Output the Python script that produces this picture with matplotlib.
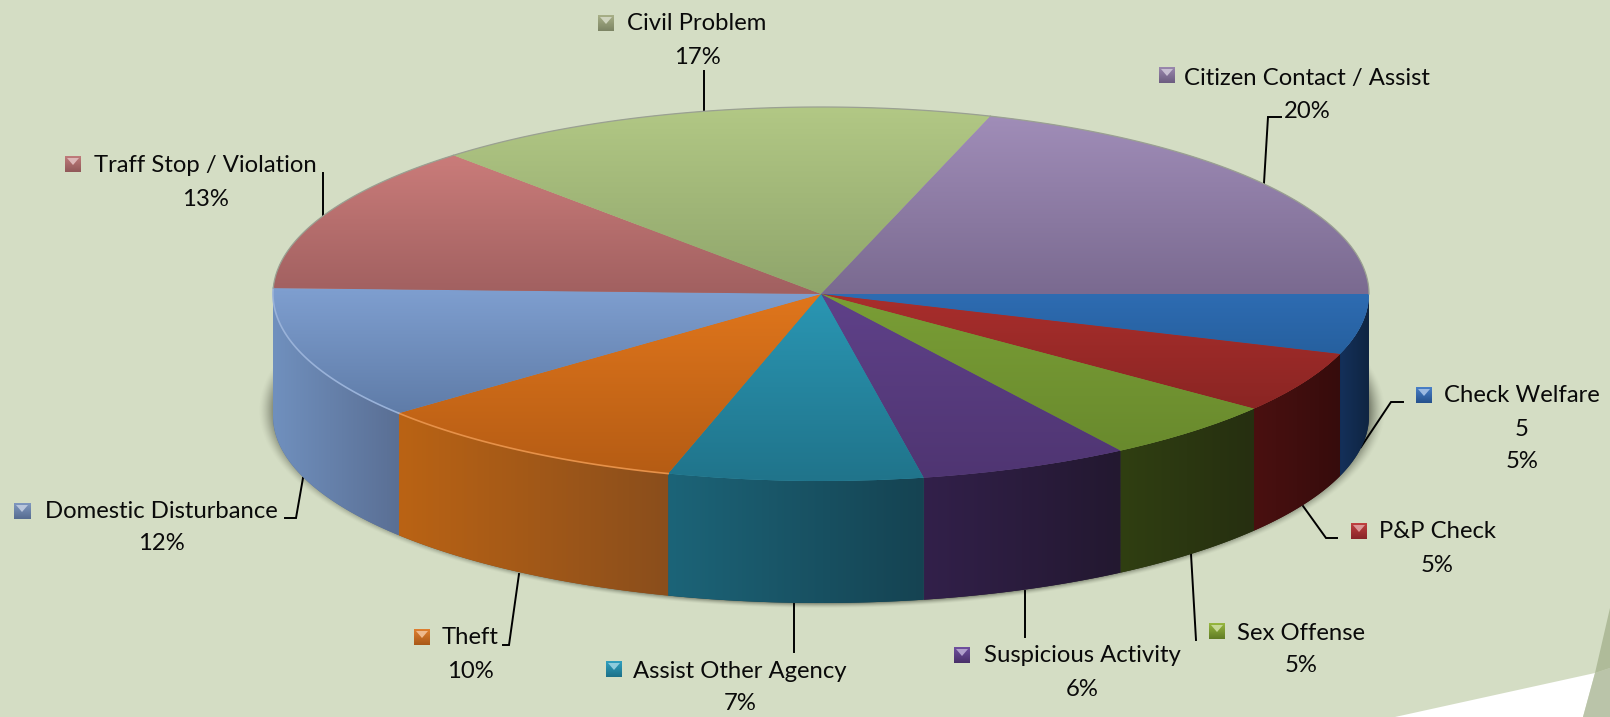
import numpy as np
import matplotlib
matplotlib.use("Agg")
import matplotlib.pyplot as plt
from matplotlib.colors import to_rgb
from matplotlib.patches import Polygon

# Slices, clockwise from the right hand edge of the pie
categories = ["Check Welfare", "P&P Check", "Sex Offense", "Suspicious Activity", "Assist Other Agency",
              "Theft", "Domestic Disturbance", "Traff Stop / Violation", "Civil Problem", "Citizen Contact / Assist"]
shares = [5.2, 5.3, 5.3, 6.2, 7.5, 9.5, 11.5, 12.8, 16.7, 20.0]
percent_labels = [5, 5, 5, 6, 7, 10, 12, 13, 17, 20]
count_labels = ["5", "", "", "", "", "", "", "", "", ""]

# top face colours (top of wedge, bottom of wedge)
top_light = ["#2E6CB2", "#A92E2C", "#7A9E36", "#5F4189", "#2A96B3", "#E0761C", "#7F9FD0", "#CA7C7A", "#B2C885", "#A08DB8"]
top_dark = ["#26609F", "#8A2523", "#698A2D", "#4F3572", "#20748B", "#B55C14", "#5F7CA8", "#A16060", "#8FA56B", "#7A6A90"]
# side wall colours (left, right)
side_left = ["#14305A", "#4A1010", "#303F12", "#32204A", "#1C6478", "#BA6314", "#7090BE", "", "", ""]
side_right = ["#0F2542", "#360C0C", "#262F10", "#231830", "#154352", "#8A4E1C", "#5A6F94", "", "", ""]
key_top = ["#4A80C8", "#C04040", "#98B840", "#7050A0", "#30A0C0", "#E08030", "#8098C0", "#C07C7C", "#A8B088", "#9A88AE"]
key_bottom = ["#24508C", "#882428", "#607C24", "#483068", "#1C7088", "#A85818", "#566C90", "#905858", "#7C8464", "#6C5C80"]

# layout, in pixels of the 1610x717 picture
center_x, center_y = 821, 294
radius_x, radius_y = 548, 187
depth = 122
name_xy = [(1522, 396), (1437, 531), (1301, 633), (1082, 656), (740, 671), (470, 637), (161, 511), (205, 166), (697, 24), (1307, 78)]
percent_y = [462, 565, 666, 689, 704, 671, 544, 199, 58, 112]
key_xy = [(1416, 387), (1351, 523), (1209, 623), (954, 647), (606, 661), (414, 629), (14, 503), (65, 156), (598, 15), (1159, 67)]
leaders = [
    [(1361, 447), (1391, 402), (1403, 402)],
    [(1303, 506), (1326, 538), (1337, 538)],
    [(1191, 554), (1196, 640)],
    [(1025, 591), (1025, 637)],
    [(794, 604), (794, 652)],
    [(503, 645), (509, 645), (519, 574)],
    [(285, 518), (296, 518), (303, 478)],
    [(323, 173), (323, 215)],
    [(704, 71), (704, 110)],
    [(1281, 117), (1268, 117), (1264, 183)],
]

BACKGROUND = "#D4DDC4"

fig = plt.figure(figsize=(16.1, 7.17), dpi=100, facecolor=BACKGROUND)
ax = fig.add_axes([0, 0, 1, 1], zorder=1)
ax.set_facecolor(BACKGROUND)
ax.axis("off")

# corner decoration
ax.add_patch(Polygon([(1395, 717), (1595, 673), (1583, 717)], color="white", lw=0))
ax.add_patch(Polygon([(1595, 673), (1610, 668), (1610, 717), (1583, 717)], color="#BAC4A9", lw=0))
ax.add_patch(Polygon([(1595, 673), (1610, 608), (1610, 668)], color="#AFBB99", lw=0))

# soft shadow behind the pie
yy, xx = np.mgrid[0:717, 0:1610]
dist = np.sqrt(((xx - center_x) / 563.0) ** 2 + ((yy - 410) / 198.0) ** 2)
shadow = np.zeros((717, 1610, 4))
shadow[..., :3] = to_rgb("#4A5040")
shadow[..., 3] = 0.7 * np.clip((1 - dist) / 0.03, 0, 1) ** 1.5
ax.imshow(shadow, extent=(0, 1610, 717, 0), aspect="auto", zorder=1)


def gradient(start, end, vertical):
    colors = np.linspace(to_rgb(start), to_rgb(end), 128)
    return colors[:, None, :] if vertical else colors[None, :, :]


def legend_key(x, y, top, bottom):
    size = 16
    ax.imshow(gradient(top, bottom, True), extent=(x, x + size, y + size, y), aspect="auto", zorder=3)
    ax.add_patch(Polygon([(x + 2, y + 2), (x + size - 2, y + 2), (x + size / 2, y + 9)],
                         color=tuple(0.55 * np.array(to_rgb(top)) + 0.45), lw=0, zorder=4))


# pie is drawn on the unit circle, the axes box squashes it to an ellipse
pie_ax = fig.add_axes([0, 0, 1, 1], zorder=2)
pie_ax.patch.set_alpha(0)
wedges, _ = pie_ax.pie(shares, startangle=0, counterclock=False, radius=1, colors=top_light,
                       wedgeprops={"linewidth": 0})
depth_units = depth / radius_y

edges = np.cumsum([0] + shares) / 100.0 * 2 * np.pi

# side walls, only the front half of the pie shows one
for i in range(len(shares)):
    if not side_left[i]:
        continue
    a = np.linspace(edges[i], min(edges[i + 1], np.pi), 80)
    xs, ys = np.cos(a), -np.sin(a)
    outline = np.r_[np.c_[xs, ys], np.c_[xs, ys - depth_units][::-1]]
    wall = Polygon(outline, closed=True, fc=side_right[i], ec="none", zorder=1)
    pie_ax.add_patch(wall)
    im = pie_ax.imshow(gradient(side_left[i], side_right[i], False), aspect="auto", zorder=1.5,
                       extent=(xs.min(), xs.max(), ys.min() - depth_units, ys.max()))
    im.set_clip_path(wall)

# top faces with a vertical shading per wedge
for i, w in enumerate(wedges):
    w.set_zorder(2)
    box = w.get_patch_transform().transform_path(w.get_path()).get_extents()
    im = pie_ax.imshow(gradient(top_light[i], top_dark[i], True), aspect="auto", zorder=2.5,
                       extent=(box.x0, box.x1, box.y0, box.y1))
    im.set_clip_path(w)

# rim of the top face
for i in range(len(shares)):
    a = np.linspace(edges[i], edges[i + 1], 120)
    if i in (5, 6):
        pie_ax.plot(np.cos(a), -np.sin(a), color=tuple(0.8 * np.array(to_rgb(top_light[i])) + 0.2), lw=1.2, zorder=3)
    elif i >= 7:
        pie_ax.plot(np.cos(a), -np.sin(a), color="#9AA092", lw=0.9, zorder=3)

pie_ax.set_aspect("auto")
pie_ax.set_xlim(-center_x / radius_x, (1610 - center_x) / radius_x)
pie_ax.set_ylim((center_y - 717) / radius_y, center_y / radius_y)
pie_ax.axis("off")

# labels
TEXT = dict(family="Lato", fontsize=17.2, color="#0A0A0A", ha="center", va="center", zorder=5)
for i, name in enumerate(categories):
    x, y = name_xy[i]
    ax.text(x, y, name, **TEXT)
    legend_key(key_xy[i][0], key_xy[i][1], key_top[i], key_bottom[i])
    if count_labels[i]:
        ax.text(x, 429, count_labels[i], **TEXT)
    ax.text(x, percent_y[i], f"{percent_labels[i]}%", **TEXT)
    pts = np.array(leaders[i])
    ax.plot(pts[:, 0], pts[:, 1], color="black", lw=1.4, zorder=5, solid_joinstyle="miter")

ax.set_xlim(0, 1610)
ax.set_ylim(717, 0)

fig.savefig("out.png", dpi=100, facecolor=fig.get_facecolor())
